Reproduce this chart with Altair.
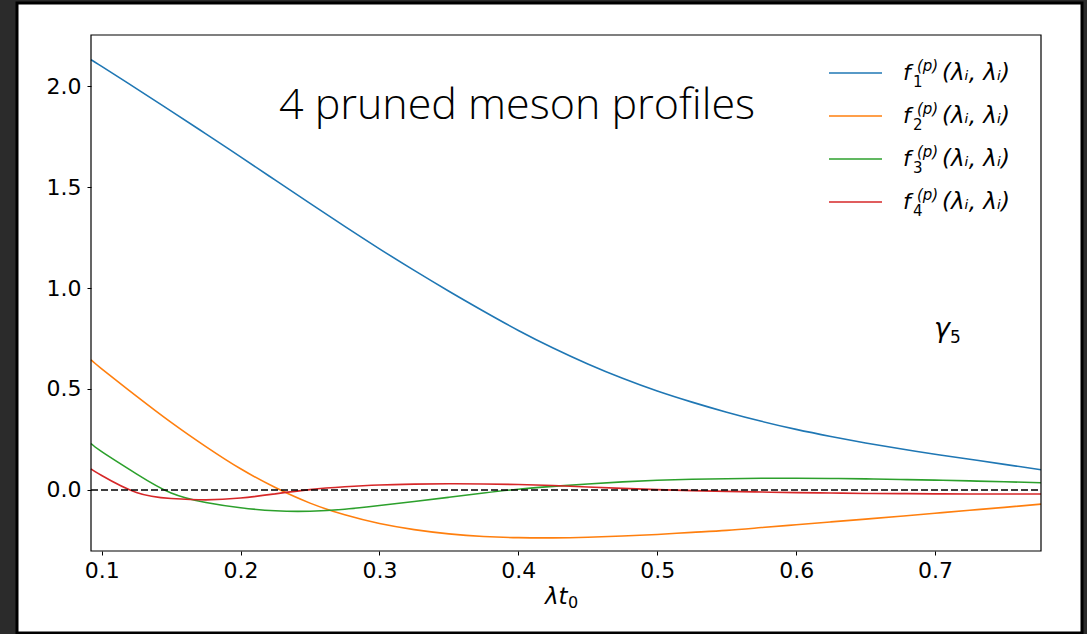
import altair as alt
import pandas as pd

# ---- data ----
x_vals = [0.0923, 0.1, 0.125, 0.15, 0.175, 0.2, 0.225, 0.25, 0.275, 0.3, 0.325, 0.35,
          0.375, 0.4, 0.425, 0.45, 0.475, 0.5, 0.525, 0.55, 0.575, 0.6, 0.625, 0.65,
          0.675, 0.7, 0.725, 0.75, 0.7763]
f1 = [2.13, 2.097, 1.987, 1.876, 1.763, 1.649, 1.534, 1.419, 1.305, 1.194, 1.087, 0.984,
      0.885, 0.79, 0.703, 0.624, 0.553, 0.49, 0.435, 0.385, 0.34, 0.30, 0.265, 0.233,
      0.204, 0.177, 0.152, 0.127, 0.10]
f2 = [0.645, 0.60, 0.465, 0.335, 0.215, 0.105, 0.012, -0.065, -0.123, -0.166, -0.196, -0.217,
      -0.23, -0.236, -0.237, -0.234, -0.228, -0.22, -0.21, -0.20, -0.186, -0.172, -0.158, -0.144,
      -0.13, -0.115, -0.10, -0.086, -0.07]
f3 = [0.23, 0.19, 0.08, -0.015, -0.062, -0.088, -0.103, -0.105, -0.095, -0.077, -0.057, -0.036,
      -0.015, 0.004, 0.018, 0.03, 0.04, 0.048, 0.053, 0.056, 0.058, 0.058, 0.057, 0.055,
      0.052, 0.049, 0.045, 0.041, 0.036]
f4 = [0.105, 0.072, -0.012, -0.042, -0.049, -0.04, -0.019, 0.002, 0.016, 0.025, 0.029, 0.031,
      0.03, 0.027, 0.022, 0.015, 0.008, 0.002, -0.003, -0.007, -0.01, -0.013, -0.015, -0.017,
      -0.018, -0.019, -0.02, -0.02, -0.02]
series_names = ["f1", "f2", "f3", "f4"]
series_colors = ["#1f77b4", "#ff7f0e", "#2ca02c", "#d62728"]
subscripts = ["1", "2", "3", "4"]
x_ticks = [0.1, 0.2, 0.3, 0.4, 0.5, 0.6, 0.7]
y_ticks = [0.0, 0.5, 1.0, 1.5, 2.0]
x_domain = [0.0923, 0.7763]
y_domain = [-0.302, 2.2525]

rows = []
for name, vals in zip(series_names, [f1, f2, f3, f4]):
    for xv, yv in zip(x_vals, vals):
        rows.append({"x": xv, "y": yv, "series": name})
df = pd.DataFrame(rows)
one = pd.DataFrame({"k": [0]})

W, H = 950, 516

xenc = alt.X("x:Q", scale=alt.Scale(domain=x_domain, nice=False, zero=False),
             axis=alt.Axis(values=x_ticks, format=".1f", title=None, grid=False,
                           domain=False, tickSize=4, tickColor="black", zindex=1,
                           labelFont="DejaVu Sans", labelFontSize=22, labelColor="black",
                           labelPadding=5))
yenc = alt.Y("y:Q", scale=alt.Scale(domain=y_domain, nice=False, zero=False),
             axis=alt.Axis(values=y_ticks, format=".1f", title=None, grid=False,
                           domain=False, tickSize=4, tickColor="black", zindex=1,
                           labelFont="DejaVu Sans", labelFontSize=22, labelColor="black",
                           labelPadding=6))

panel = alt.Chart(one).mark_rect(fill="white", stroke="black", strokeWidth=3).encode(
    x=alt.value(-74), x2=alt.value(991), y=alt.value(-32), y2=alt.value(598))

lines = alt.Chart(df).mark_line(strokeWidth=1.6, interpolate="natural").encode(
    x=xenc, y=yenc,
    color=alt.Color("series:N", scale=alt.Scale(domain=series_names, range=series_colors),
                    legend=None),
    detail="series:N")

zero = alt.Chart(one).mark_rule(color="black", strokeWidth=1.5, strokeDash=[7, 3]).encode(
    y=alt.datum(0), x=alt.value(0), x2=alt.value(W))

frame = alt.Chart(one).mark_rect(fill="white", fillOpacity=0, stroke="black",
                                 strokeWidth=1.2).encode(
    x=alt.value(0), x2=alt.value(W), y=alt.value(0), y2=alt.value(H))

title = alt.Chart(one).mark_text(text="4 pruned meson profiles", font="Open Sans",
                                 fontSize=43, fontWeight=300, align="center",
                                 baseline="alphabetic", color="black").encode(
    x=alt.value(426), y=alt.value(84))

xtitle = alt.Chart(one).mark_text(text="λt", font="DejaVu Sans", fontStyle="italic",
                                  fontSize=23, align="left", baseline="alphabetic",
                                  color="black").encode(x=alt.value(454), y=alt.value(569))
xtitle0 = alt.Chart(one).mark_text(text="0", font="DejaVu Sans", fontSize=16, align="left",
                                   baseline="alphabetic", color="black").encode(
    x=alt.value(477), y=alt.value(573))

gamma = alt.Chart(one).mark_text(text="γ", font="DejaVu Sans", fontStyle="italic",
                                 fontSize=27, align="left", baseline="alphabetic",
                                 color="black").encode(x=alt.value(843), y=alt.value(302))
gamma5 = alt.Chart(one).mark_text(text="5", font="DejaVu Sans", fontSize=17, align="left",
                                  baseline="alphabetic", color="black").encode(
    x=alt.value(859), y=alt.value(308))

legend_layers = []
for i, (col, sub) in enumerate(zip(series_colors, subscripts)):
    ry = 38 + 43 * i
    legend_layers.append(alt.Chart(one).mark_rule(color=col, strokeWidth=1.6).encode(
        x=alt.value(738), x2=alt.value(791), y=alt.value(ry)))
    legend_layers.append(alt.Chart(one).mark_text(
        text="f", font="DejaVu Sans", fontStyle="italic", fontSize=22, align="left",
        baseline="alphabetic", color="black").encode(x=alt.value(812), y=alt.value(ry + 7)))
    legend_layers.append(alt.Chart(one).mark_text(
        text="(p)", font="DejaVu Sans", fontStyle="italic", fontSize=15, align="left",
        baseline="alphabetic", color="black").encode(x=alt.value(826), y=alt.value(ry - 2)))
    legend_layers.append(alt.Chart(one).mark_text(
        text=sub, font="DejaVu Sans", fontSize=15, align="left",
        baseline="alphabetic", color="black").encode(x=alt.value(822), y=alt.value(ry + 14)))
    legend_layers.append(alt.Chart(one).mark_text(
        text="(λᵢ, λᵢ)", font="DejaVu Sans", fontStyle="italic", fontSize=23, align="left",
        baseline="alphabetic", color="black").encode(x=alt.value(851), y=alt.value(ry + 7)))

chart = alt.layer(panel, lines, zero, frame, title, xtitle, xtitle0, gamma, gamma5,
                  *legend_layers).properties(
    width=W, height=H,
    autosize=alt.AutoSizeParams(type="none"),
    padding={"left": 91, "top": 35, "right": 46, "bottom": 83},
    background="#2b2b2b",
).configure_view(stroke=None, fill="white")

chart.save("out.html", embed_options={"renderer": "svg", "actions": False})
